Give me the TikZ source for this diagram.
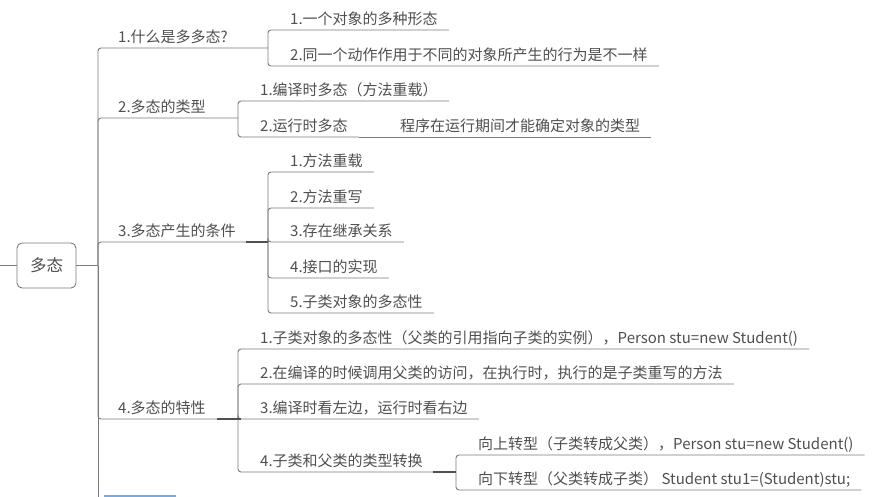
\documentclass[tikz,border=0pt]{standalone}
\usepackage{fontspec}
\newfontfamily\cjk{Noto Sans CJK SC}
\usepackage{tikz}
\usetikzlibrary{positioning}

\definecolor{linegray}{HTML}{7A7A7A}
\definecolor{txtgray}{HTML}{4F4F4F}
\definecolor{knobgray}{HTML}{505050}
\definecolor{selblue}{HTML}{6AADF5}

\tikzset{
  conn/.style={draw=linegray, line width=0.9pt, rounded corners=3pt},
  knob/.style={draw=knobgray, line width=1.8pt},
  topic/.style={anchor=south west, inner xsep=11pt, inner ysep=2.3pt,
    text height=11pt, text depth=3pt, text=txtgray,
    font=\cjk\fontsize{15}{18}\selectfont},
  rootbox/.style={draw=linegray, line width=0.9pt, rounded corners=5pt,
    minimum width=59pt, minimum height=45pt, text=txtgray,
    font=\cjk\fontsize{16.5}{20}\selectfont}
}

\begin{document}
\begin{tikzpicture}[x=1pt,y=-1pt]
  \useasboundingbox (0,0) rectangle (872,497);

  \node[rootbox] (root) at (46.5,265.5) {多态};
  \coordinate (in) at (0,265.5);
  \coordinate (trk) at (98,265.5);
  \coordinate (bot) at (98,500);

  % first level
  \coordinate (j1) at (268,48);
  \coordinate (j2) at (238,118);
  \coordinate (j3) at (268,242);
  \coordinate (j4) at (238,419);
  \node[topic] (b1) at (107,48) {1.什么是多多态?};
  \node[topic] (b2) at (107,118) {2.多态的类型};
  \node[topic] (b3) at (107,242) {3.多态产生的条件};
  \node[topic] (b4) at (107,419) {4.多态的特性};

  % second level
  \node[topic] (c11) at (279,30) {1.一个对象的多种形态};
  \node[topic] (c12) at (279,66) {2.同一个动作作用于不同的对象所产生的行为是不一样};
  \node[topic] (c21) at (249,101) {1.编译时多态（方法重载）};
  \node[topic] (c22) at (249,137) {2.运行时多态};
  \node[topic] (c221) at (389,137) {程序在运行期间才能确定对象的类型};
  \node[topic] (c31) at (279,172) {1.方法重载};
  \node[topic] (c32) at (279,208) {2.方法重写};
  \node[topic] (c33) at (279,242) {3.存在继承关系};
  \node[topic] (c34) at (279,278) {4.接口的实现};
  \node[topic] (c35) at (279,313) {5.子类对象的多态性};
  \node[topic] (c41) at (249,349) {1.子类对象的多态性（父类的引用指向子类的实例），Person stu=new Student()};
  \node[topic] (c42) at (249,384) {2.在编译的时候调用父类的访问，在执行时，执行的是子类重写的方法};
  \node[topic] (c43) at (249,419) {3.编译时看左边，运行时看右边};
  \node[topic] (c44) at (249,472) {4.子类和父类的类型转换};
  \coordinate (j44) at (456,472);
  \node[topic] (c441) at (467,455) {向上转型（子类转成父类），Person stu=new Student()};
  \node[topic] (c442) at (467,490) {向下转型（父类转成子类） Student stu1=(Student)stu;};

  \draw[conn] (in) -- (root.west);
  \draw[conn] (root.east) -- (trk);
  \draw[conn] (trk) -- (bot);
  \foreach \j in {j1,j2,j3,j4}
    \draw[conn] (trk) |- (\j);

  \foreach \c in {c11,c12}
    \draw[conn] (j1) |- (\c.south east);
  \foreach \c in {c21,c22}
    \draw[conn] (j2) |- (\c.south east);
  \draw[conn] (c22.south east) -- (c221.south east);
  \foreach \c in {c31,c32,c33,c34,c35}
    \draw[conn] (j3) |- (\c.south east);
  \foreach \c in {c41,c42,c43}
    \draw[conn] (j4) |- (\c.south east);
  \draw[conn] (j4) |- (j44);
  \foreach \c in {c441,c442}
    \draw[conn] (j44) |- (\c.south east);

  \draw[knob] ([xshift=-22pt]j3) -- (j3);
  \draw[knob] ([xshift=-21pt]j4) -- ([xshift=3pt]j4);
  \draw[knob] ([xshift=-23pt]j44) -- (j44);

  \fill[selblue] (104,494.5) rectangle (176,497);
\end{tikzpicture}
\end{document}
